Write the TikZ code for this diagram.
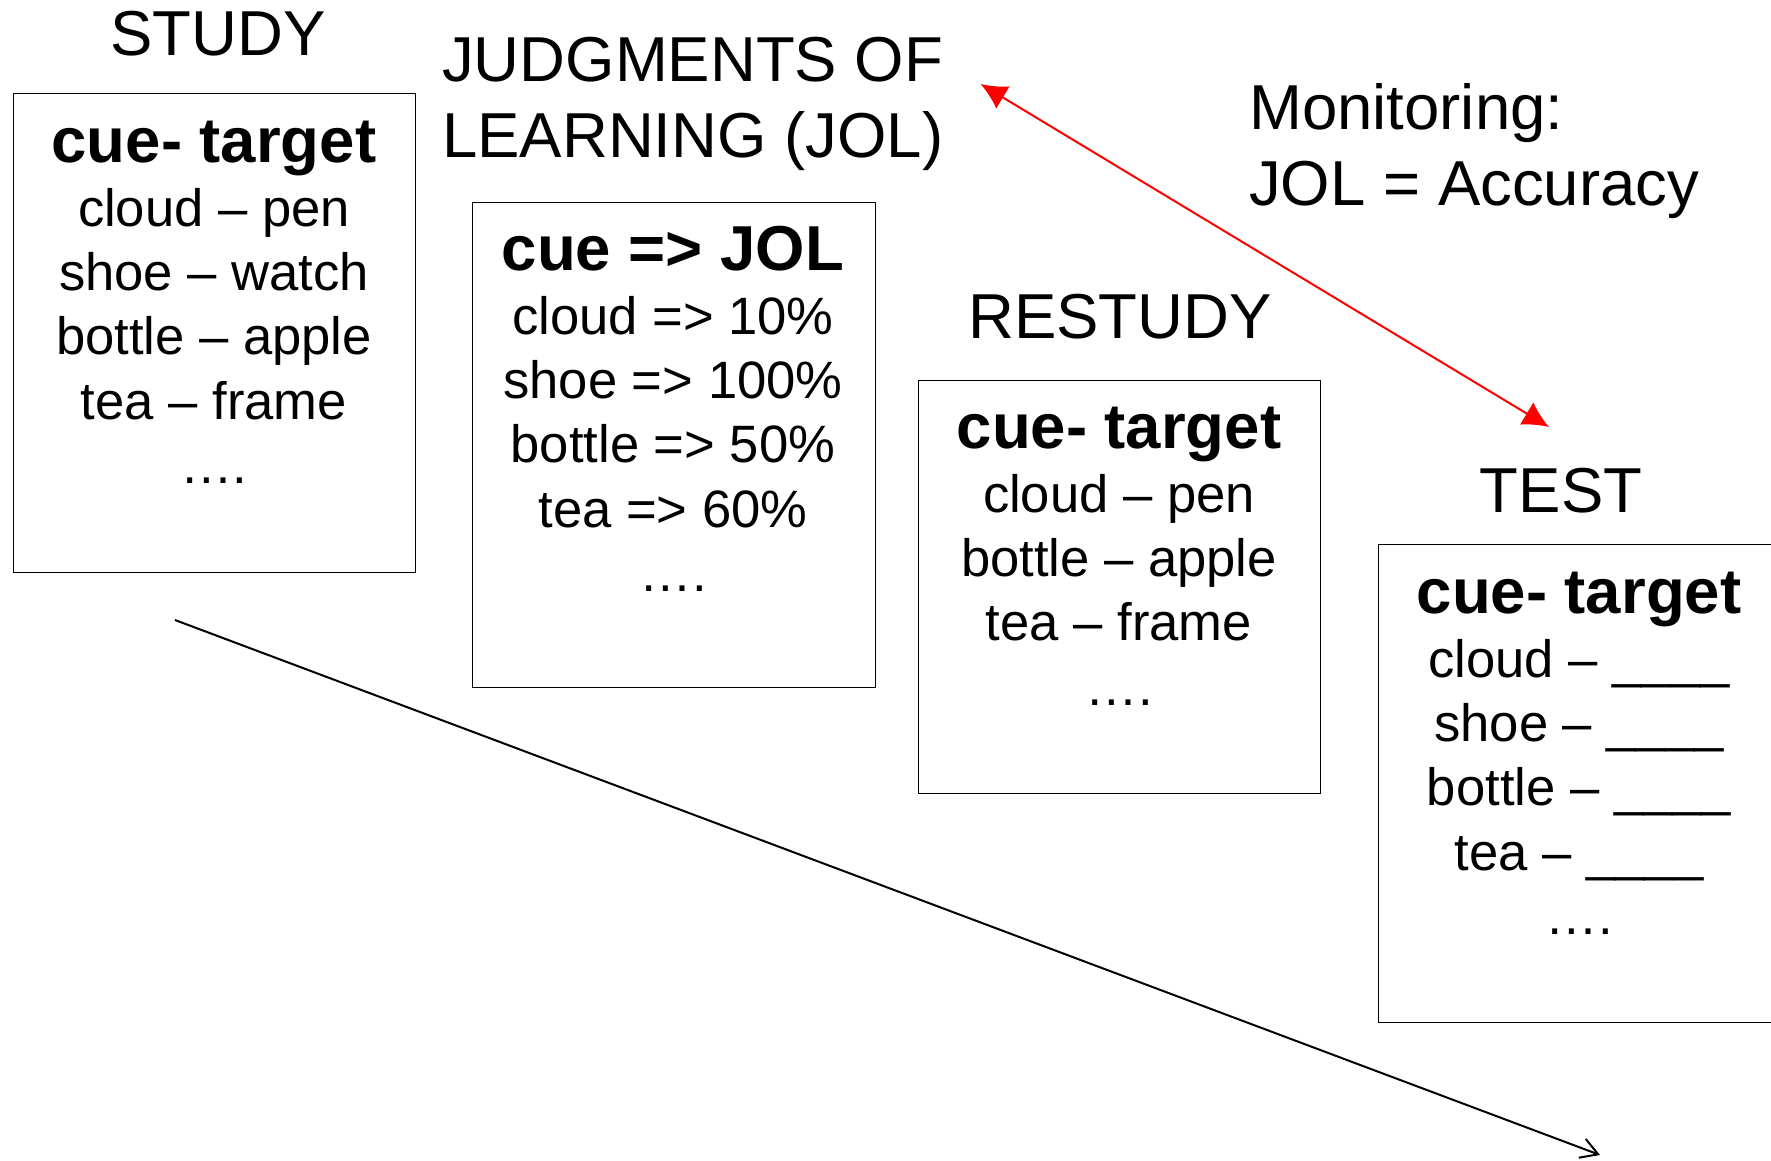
\documentclass[tikz,border=0pt]{standalone}
\usepackage{fontspec}
\setmainfont{Liberation Sans}
\usetikzlibrary{arrows.meta}
% bold first line of each list box
\newcommand\cuehead[1]{{\fontsize{63.5}{64.3}\selectfont\bfseries #1}}
\begin{document}
\begin{tikzpicture}[x=1pt,y=-1pt,
  panel/.style={draw=black, line width=1.3pt, inner sep=0pt, anchor=north west},
  phase/.style={font=\fontsize{63.5}{76}\selectfont, inner sep=0pt, anchor=base},
  listing/.style={font=\fontsize{52.6}{64.3}\selectfont, align=center, inner sep=0pt, anchor=base},
  monitorlink/.style={draw=red, line width=2pt, {Latex[length=26pt,width=26pt]}-{Latex[length=26pt,width=26pt]}},
  timeline/.style={draw=black, line width=2pt, -{Straight Barb[length=17pt,width=20pt]}},
]
\clip (0,0) rectangle (1771,1160);
\fill[white] (0,0) rectangle (1771,1160);

% STUDY phase (multi-line nodes are placed by the baseline of their last line)
\node[phase] (studyT) at (218,55) {STUDY};
\node[panel, minimum width=402pt, minimum height=479pt] (study) at (13,93) {};
\node[listing] (studyL) at (214,483.5)
  {\cuehead{cue- target}\\ cloud – pen\\ shoe – watch\\ bottle – apple\\ tea – frame\\ ….};

% Judgments of learning
\node[phase, anchor=base west, align=left] (jolT) at (442,157) {JUDGMENTS OF\\LEARNING (JOL)};
\node[panel, minimum width=403pt, minimum height=485pt] (jol) at (472,202) {};
\node[listing] (jolL) at (673,591.5)
  {\cuehead{cue => JOL}\\ cloud => 10\%\\ shoe => 100\%\\ bottle => 50\%\\ tea => 60\%\\ ….};

% RESTUDY phase
\node[phase] (restudyT) at (1120,338) {RESTUDY};
\node[panel, minimum width=402pt, minimum height=413pt] (restudy) at (918,380) {};
\node[listing] (restudyL) at (1119,705.2)
  {\cuehead{cue- target}\\ cloud – pen\\ bottle – apple\\ tea – frame\\ ….};

% TEST phase
\node[phase] (testT) at (1561,512) {TEST};
\node[panel, minimum width=402pt, minimum height=478pt] (test) at (1378,544) {};
\node[listing] (testL) at (1579,934.5)
  {\cuehead{cue- target}\\ cloud – \_\_\_\_\\ shoe – \_\_\_\_\\ bottle – \_\_\_\_\\ tea – \_\_\_\_\\ ….};

% monitoring label
\node[phase, anchor=base west, align=left] (monitor) at (1249,205) {Monitoring:\\JOL = Accuracy};

% connectors
\coordinate (jolEnd) at (980.6,84);
\coordinate (testEnd) at (1549,427);
\draw[monitorlink] (jolEnd) -- (testEnd);

\coordinate (timeStart) at (175,620);
\coordinate (timeEnd) at (1600,1155);
\draw[timeline] (timeStart) -- (timeEnd);
\end{tikzpicture}
\end{document}
